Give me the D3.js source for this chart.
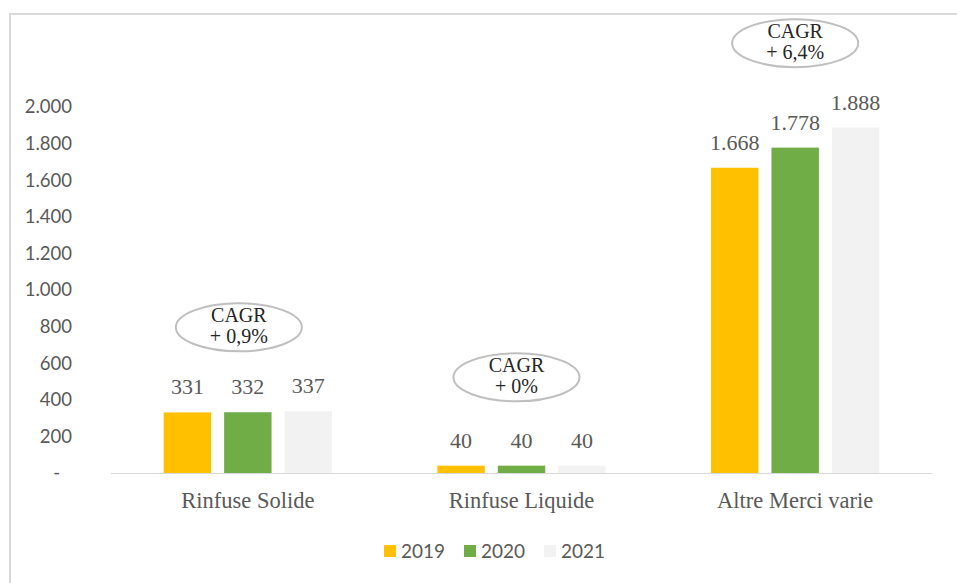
<!DOCTYPE html>
<html>
<head>
<meta charset="utf-8">
<script src="https://cdn.jsdelivr.net/npm/d3@7"></script>
<style>
  body { margin: 0; background: #fff; }
  svg { display: block; }
</style>
</head>
<body>
<svg id="chart" width="957" height="583"></svg>
<script>
var categories = ['Rinfuse Solide', 'Rinfuse Liquide', 'Altre Merci varie'];
var years = ['2019', '2020', '2021'];
var values2019 = [331, 40, 1668];
var values2020 = [332, 40, 1778];
var values2021 = [337, 40, 1888];
var yTicks = [0, 200, 400, 600, 800, 1000, 1200, 1400, 1600, 1800, 2000];
var cagrLabels = ['+ 0,9%', '+ 0%', '+ 6,4%'];
var cagrLevels = [796, 523, 2349];   // where each bubble sits, in value units
var cagrShift = [-9, -5, 0];        // bubble offset from the category centre

var colors = { '2019': '#ffc000', '2020': '#70ad47', '2021': '#f2f2f2' };
var series = { '2019': values2019, '2020': values2020, '2021': values2021 };

var svg = d3.select('#chart'),
    margin = { top: 107, left: 111, right: 25, bottom: 110 },
    width = 957 - margin.left - margin.right,
    height = 583 - margin.top - margin.bottom;

var serif = '"Liberation Serif", "DejaVu Serif", serif',
    sans = 'Lato, "Open Sans", sans-serif',
    textColor = '#595959';

// frame
svg.append('path')
    .attr('d', 'M10,583 V14 H957')
    .style('fill', 'none')
    .style('stroke', '#d9d9d9')
    .style('stroke-width', '2px');

var g = svg.append('g')
    .attr('transform', 'translate(' + margin.left + ',' + margin.top + ')');

var x = d3.scaleBand()
    .domain(categories)
    .range([0, width])
    .paddingInner(0.385)
    .paddingOuter(0.1925);

var xInner = d3.scaleBand()
    .domain(years)
    .range([0, x.bandwidth()])
    .paddingInner(0.215);

var y = d3.scaleLinear()
    .domain([0, 2000])
    .range([height, 0]);

var fmt = d3.formatLocale({ decimal: ',', thousands: '.', grouping: [3], currency: ['', '€'] }).format(',d');

// y axis labels
var yAxis = g.append('g')
    .call(d3.axisLeft(y).tickValues(yTicks).tickSize(0).tickPadding(39)
      .tickFormat(function(d) { return d === 0 ? '-' : fmt(d); }));
yAxis.select('.domain').remove();
yAxis.selectAll('text')
    .style('font-family', sans)
    .style('font-size', '18.5px')
    .style('fill', textColor)
    .attr('dx', function(d) { return d === 0 ? -12 : 0; });

// bars
var groups = g.selectAll('.group')
    .data(categories)
  .enter().append('g')
    .attr('class', 'group')
    .attr('transform', function(d) { return 'translate(' + x(d) + ',0)'; });

groups.selectAll('rect')
    .data(function(d, i) { return years.map(function(yr) { return { year: yr, value: series[yr][i] }; }); })
  .enter().append('rect')
    .attr('x', function(d) { return xInner(d.year); })
    .attr('y', function(d) { return y(d.value); })
    .attr('width', xInner.bandwidth())
    .attr('height', function(d) { return height - y(d.value); })
    .style('fill', function(d) { return colors[d.year]; });

groups.selectAll('.value')
    .data(function(d, i) { return years.map(function(yr) { return { year: yr, value: series[yr][i] }; }); })
  .enter().append('text')
    .attr('class', 'value')
    .attr('x', function(d) { return xInner(d.year) + xInner.bandwidth() / 2; })
    .attr('y', function(d) { return y(d.value) - 18; })
    .attr('text-anchor', 'middle')
    .style('font-family', serif)
    .style('font-size', '22px')
    .style('fill', textColor)
    .text(function(d) { return fmt(d.value); });

// x axis line
g.append('line')
    .attr('x1', 0)
    .attr('x2', width)
    .attr('y1', height + 0.5)
    .attr('y2', height + 0.5)
    .style('stroke', '#d9d9d9')
    .style('stroke-width', '1px');

g.selectAll('.cat')
    .data(categories)
  .enter().append('text')
    .attr('class', 'cat')
    .attr('x', function(d) { return x(d) + x.bandwidth() / 2; })
    .attr('y', height + 35)
    .attr('text-anchor', 'middle')
    .style('font-family', serif)
    .style('font-size', '22.5px')
    .style('fill', textColor)
    .text(function(d) { return d; });

// CAGR bubbles
var bubbles = g.selectAll('.cagr')
    .data(categories)
  .enter().append('g')
    .attr('class', 'cagr')
    .attr('transform', function(d, i) {
      return 'translate(' + (x(d) + x.bandwidth() / 2 + cagrShift[i]) + ',' + y(cagrLevels[i]) + ')';
    });

bubbles.append('ellipse')
    .attr('rx', 63)
    .attr('ry', 24)
    .style('fill', '#fff')
    .style('stroke', '#bfbfbf')
    .style('stroke-width', '2px');

bubbles.append('text')
    .attr('y', -5)
    .attr('text-anchor', 'middle')
    .style('font-family', serif)
    .style('font-size', '20px')
    .style('fill', '#262626')
    .text('CAGR');

bubbles.append('text')
    .attr('y', 16)
    .attr('text-anchor', 'middle')
    .style('font-family', serif)
    .style('font-size', '20px')
    .style('fill', '#262626')
    .text(function(d, i) { return cagrLabels[i]; });

// legend
var legend = svg.append('g')
    .attr('transform', 'translate(384,551)');

var items = legend.selectAll('g')
    .data(years)
  .enter().append('g')
    .attr('transform', function(d, i) { return 'translate(' + (i * 80) + ',0)'; });

items.append('rect')
    .attr('x', 0)
    .attr('y', -6)
    .attr('width', 12)
    .attr('height', 12)
    .style('fill', function(d) { return colors[d]; });

items.append('text')
    .attr('x', 17)
    .attr('y', 7)
    .style('font-family', sans)
    .style('font-size', '19px')
    .style('fill', textColor)
    .text(function(d) { return d; });
</script>
</body>
</html>
